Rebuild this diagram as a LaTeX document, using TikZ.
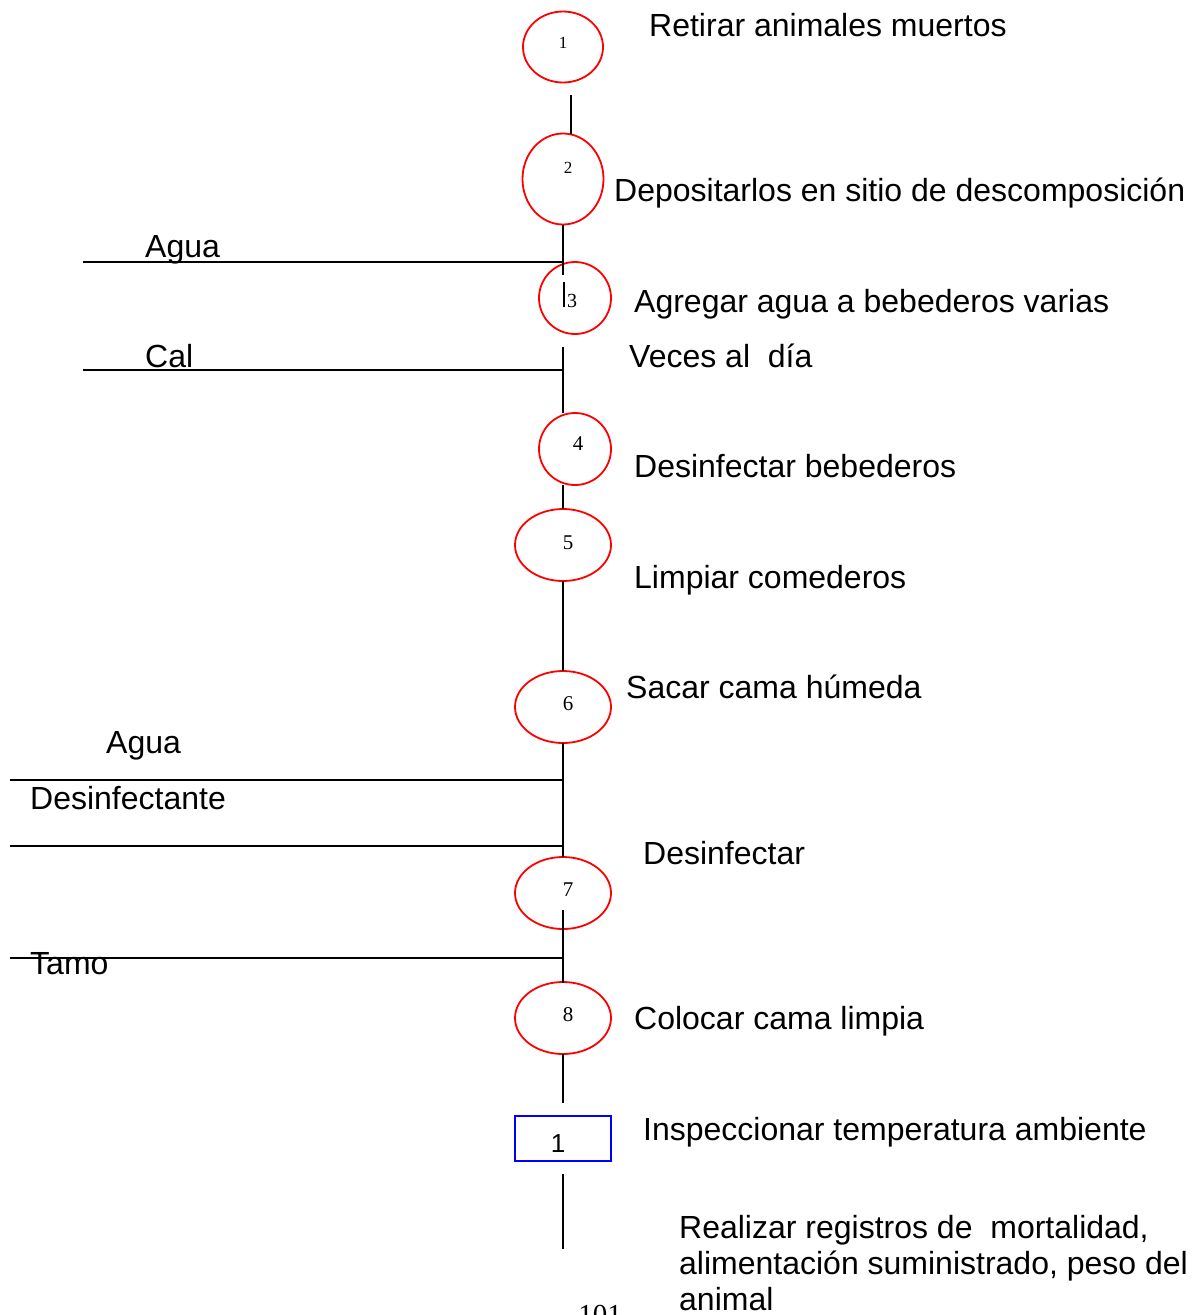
\documentclass[tikz,border=0pt]{standalone}
\usepackage{fontspec}
\setmainfont{Liberation Sans}
\newfontfamily\numfont{Liberation Serif}
\usetikzlibrary{shapes.geometric}
\tikzset{
  op/.style={draw=red, line width=1.8pt, ellipse, inner sep=0pt},
  insp/.style={draw=blue, line width=1.8pt, rectangle, inner sep=0pt},
  flow/.style={draw=black, line width=1.8pt},
  lbl/.style={anchor=base west, inner sep=0pt, font=\fontsize{32}{36}\selectfont, align=left},
  snum/.style={anchor=base, inner sep=0pt, font=\numfont\fontsize{17}{18}\selectfont},
  bnum/.style={anchor=base, inner sep=0pt, font=\numfont\fontsize{21}{24}\selectfont},
}
\begin{document}
\begin{tikzpicture}[x=1pt,y=-1pt]
\useasboundingbox[fill=white] (0,0) rectangle (1204,1315);

% operation ellipses
\node[op, minimum width=80pt, minimum height=71pt] (o1) at (563,47) {};
\node[op, minimum width=81pt, minimum height=91pt] (o2) at (563,179) {};
\node[op, minimum width=72pt, minimum height=72pt] (o3) at (575,298) {};
\node[op, minimum width=72pt, minimum height=72pt] (o4) at (575,449) {};
\node[op, minimum width=96pt, minimum height=72pt] (o5) at (563,545) {};
\node[op, minimum width=96pt, minimum height=72pt] (o6) at (563,707) {};
\node[op, minimum width=96pt, minimum height=72pt] (o7) at (563,893) {};
\node[op, minimum width=96pt, minimum height=72pt] (o8) at (563,1018) {};
% inspection box
\node[insp, minimum width=96pt, minimum height=45pt] (i1) at (563,1138.5) {};

% numbers
\node[snum] (n1) at (563,48) {1};
\node[snum] (n2) at (568,173) {2};
\node[anchor=base, inner sep=0pt, font=\numfont\fontsize{20}{22}\selectfont] (n3) at (572,307) {3};
\node[bnum] (n4) at (578,450) {4};
\node[bnum] (n5) at (568,549) {5};
\node[bnum] (n6) at (568,710) {6};
\node[bnum] (n7) at (568,896) {7};
\node[bnum] (n8) at (568,1021) {8};
\node[anchor=base, inner sep=0pt, font=\fontsize{26}{28}\selectfont] (ni) at (558,1152) {1};

% main flow line
\coordinate (a1) at (571,95);  \coordinate (a2) at (571,134);
\coordinate (b1) at (563,225); \coordinate (b2) at (563,275);
\coordinate (c1) at (564,282); \coordinate (c2) at (564,307);
\coordinate (d1) at (563,347); \coordinate (d2) at (563,413);
\coordinate (e1) at (563,485); \coordinate (e2) at (563,509);
\coordinate (f1) at (563,581); \coordinate (f2) at (563,671);
\coordinate (g1) at (563,743); \coordinate (g2) at (563,857);
\coordinate (h1) at (563,910); \coordinate (h2) at (563,983);
\coordinate (k1) at (563,1054); \coordinate (k2) at (563,1103);
\coordinate (m1) at (563,1174); \coordinate (m2) at (563,1249);
\foreach \s/\t in {a1/a2,b1/b2,c1/c2,d1/d2,e1/e2,f1/f2,g1/g2,h1/h2,k1/k2,m1/m2}
  \draw[flow] (\s) -- (\t);

% material inputs
\coordinate (w1) at (83,262);  \coordinate (w1e) at (563,262);
\coordinate (w2) at (83,370);  \coordinate (w2e) at (563,370);
\coordinate (w3) at (10,780);  \coordinate (w3e) at (563,780);
\coordinate (w4) at (10,846);  \coordinate (w4e) at (563,846);
\coordinate (w5) at (10,958);  \coordinate (w5e) at (563,958);
\foreach \s/\t in {w1/w1e,w2/w2e,w3/w3e,w4/w4e,w5/w5e}
  \draw[flow] (\s) -- (\t);

% input labels
\node[lbl] (la) at (145,257) {Agua};
\node[lbl] (lc) at (145,367) {Cal};
\node[lbl] (la2) at (106,753) {Agua};
\node[lbl] (ld) at (30,809) {Desinfectante};
\node[lbl] (lt) at (30,974) {Tamo};

% step descriptions
\node[lbl] (t1) at (649,36) {Retirar animales muertos};
\node[lbl] (t2) at (614,201) {Depositarlos en sitio de descomposición};
\node[lbl] (t3) at (634,312) {Agregar agua a bebederos varias};
\node[lbl] (t3b) at (629,367) {Veces al\ \ día};
\node[lbl] (t4) at (634,477) {Desinfectar bebederos};
\node[lbl] (t5) at (634,588) {Limpiar comederos};
\node[lbl] (t6) at (626,698) {Sacar cama húmeda};
\node[lbl] (t7) at (643,864) {Desinfectar};
\node[lbl] (t8) at (634,1029) {Colocar cama limpia};
\node[lbl] (ti) at (643,1140) {Inspeccionar temperatura ambiente};
\node[lbl, anchor=north west] (tr) at (679,1215) {Realizar registros de\ \ mortalidad,\\alimentación suministrado, peso del\\animal};

% page number
\node[anchor=base, inner sep=0pt, font=\numfont\fontsize{29}{30}\selectfont] (pg) at (600,1324) {101};
\end{tikzpicture}
\end{document}
